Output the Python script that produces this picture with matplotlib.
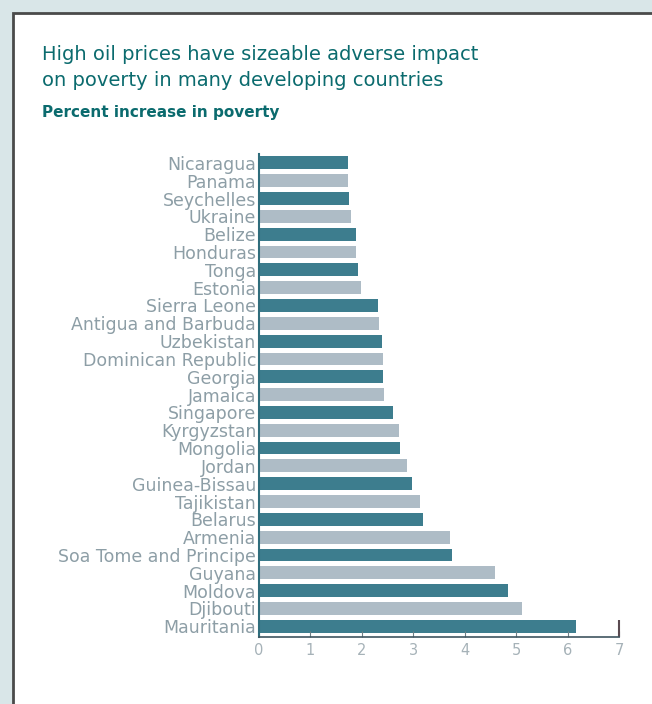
import matplotlib
matplotlib.use("Agg")
import matplotlib.pyplot as plt
from matplotlib.patches import Rectangle

countries = [
    "Nicaragua", "Panama", "Seychelles", "Ukraine", "Belize", "Honduras",
    "Tonga", "Estonia", "Sierra Leone", "Antigua and Barbuda", "Uzbekistan",
    "Dominican Republic", "Georgia", "Jamaica", "Singapore", "Kyrgyzstan",
    "Mongolia", "Jordan", "Guinea-Bissau", "Tajikistan", "Belarus", "Armenia",
    "Soa Tome and Principe", "Guyana", "Moldova", "Djibouti", "Mauritania",
]
increase = [
    1.74, 1.73, 1.75, 1.79, 1.89, 1.89,
    1.93, 1.99, 2.32, 2.34, 2.40,
    2.41, 2.42, 2.43, 2.61, 2.72,
    2.74, 2.88, 2.97, 3.14, 3.19, 3.72,
    3.76, 4.58, 4.85, 5.11, 6.16,
]
xticks = [0, 1, 2, 3, 4, 5, 6, 7]

dark = "#3d7d8e"
light = "#aebcc6"
teal = "#0b6b6e"
label_grey = "#8d9ea6"

fig = plt.figure(figsize=(6.52, 7.04), dpi=100)
fig.patch.set_facecolor("#d9e6e8")

# white panel with dark frame
fig.patches.append(Rectangle((12.5 / 652, -0.05), 1.0, (704 - 12.5) / 704 + 0.05,
                             transform=fig.transFigure, facecolor="white",
                             edgecolor="#4a4a4a", linewidth=2, zorder=-5))

fig.text(42 / 652, 1 - 60 / 704, "High oil prices have sizeable adverse impact",
         color=teal, fontsize=14, va="baseline")
fig.text(42 / 652, 1 - 86 / 704, "on poverty in many developing countries",
         color=teal, fontsize=14, va="baseline")
fig.text(42 / 652, 1 - 117 / 704, "Percent increase in poverty",
         color=teal, fontsize=11, fontweight="bold", va="baseline")

ax = fig.add_axes([259 / 652, 67 / 704, 360 / 652, 483 / 704])
ax.set_zorder(2)
ax.set_facecolor("none")
ypos = list(range(len(countries)))
colors = [dark if i % 2 == 0 else light for i in ypos]
ax.barh(ypos, increase, height=0.72, color=colors)

ax.set_xlim(0, 7)
ax.set_ylim(len(countries) - 0.4, -0.5)
ax.set_yticks(ypos)
ax.set_yticklabels(countries, color=label_grey, fontsize=12.5)
ax.set_xticks(xticks)
ax.set_xticklabels([str(t) for t in xticks], color="#a6b2b8", fontsize=10.5)
# taller end tick at 7
ax.xaxis.remove_overlapping_locs = False
ax.set_xticks([xticks[-1]], minor=True)
ax.tick_params(axis="y", length=0, pad=2)
ax.tick_params(axis="x", length=4, direction="in", color="#6d7f86", pad=4)
ax.tick_params(axis="x", which="minor", length=12, width=1.5,
               direction="in", color="#5a4a50")

for s in ["top", "right"]:
    ax.spines[s].set_visible(False)
ax.spines["left"].set_color("#2f6d7c")
ax.spines["left"].set_linewidth(1.5)
ax.spines["bottom"].set_color("#3f5560")
ax.spines["bottom"].set_linewidth(1.2)

fig.savefig("out.png", dpi=100, facecolor=fig.get_facecolor())
